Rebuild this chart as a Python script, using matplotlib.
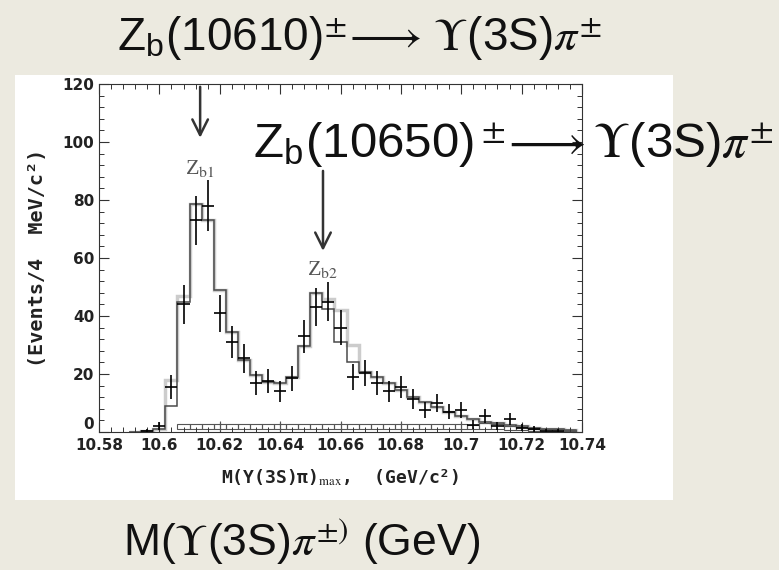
import numpy as np
import matplotlib.pyplot as plt
from matplotlib.patches import Rectangle
from matplotlib.ticker import MultipleLocator

plt.rcParams['mathtext.fontset'] = 'stix'
plt.rcParams['font.family'] = ['Liberation Sans', 'DejaVu Sans']

# --- data (bin width 4 MeV) ---
pt_x = [10.596, 10.600, 10.604, 10.608, 10.612, 10.616, 10.620, 10.624, 10.628, 10.632,
        10.636, 10.640, 10.644, 10.648, 10.652, 10.656, 10.660, 10.664, 10.668, 10.672,
        10.676, 10.680, 10.684, 10.688, 10.692, 10.696, 10.700, 10.704, 10.708, 10.712,
        10.716, 10.720, 10.724, 10.728, 10.732]
pt_y = [0.5, 2, 15.5, 44, 73, 78, 41, 31, 25.5, 17,
        17.5, 14, 18.5, 33, 43, 45, 36, 19, 20.5, 17,
        14, 15.5, 11.5, 7.5, 10, 7, 7.5, 2.5, 5.5, 2,
        4.5, 1.5, 1, 0.5, 0.5]
pt_err = [0.7, 1.4, 4, 6.6, 8.5, 8.8, 6.4, 5.6, 5, 4.1,
          4.2, 3.7, 4.3, 5.7, 6.6, 6.7, 6, 4.4, 4.5, 4.1,
          3.7, 3.9, 3.4, 2.7, 3.2, 2.6, 2.7, 1.6, 2.3, 1.4,
          2.1, 1.2, 1, 0.7, 0.7]

fit_x = [10.592, 10.596, 10.600, 10.604, 10.608, 10.612, 10.616, 10.620, 10.624, 10.628,
         10.632, 10.636, 10.640, 10.644, 10.648, 10.652, 10.656, 10.660, 10.664, 10.668,
         10.672, 10.676, 10.680, 10.684, 10.688, 10.692, 10.696, 10.700, 10.704, 10.708,
         10.712, 10.716, 10.720, 10.724, 10.728, 10.732, 10.736]
fit_y = [0, 0.3, 1, 9, 45, 78.6, 73, 49, 34.6, 25,
         19.6, 17.3, 16.9, 19, 29.6, 48, 42.5, 31, 24, 20.7,
         19, 17, 14.5, 12.2, 10.5, 8.7, 7, 5.5, 4.5, 3.5,
         3, 2.5, 2, 1.5, 1.2, 1, 0.8]
fit2_y = [0, 0.3, 1, 18, 47, 78.6, 73, 49, 34.6, 25,
          19.6, 17.3, 16.9, 19, 29.6, 48, 46, 42, 30, 20.7,
          19, 17, 14.5, 12.2, 10.5, 8.7, 7, 5.5, 4.5, 3.5,
          3, 2.5, 2, 1.5, 1.2, 1, 0.8]

bg_x = [10.608, 10.612, 10.616, 10.620, 10.624, 10.628, 10.632, 10.636, 10.640, 10.644,
        10.648, 10.652, 10.656, 10.660, 10.664, 10.668, 10.672, 10.676, 10.680, 10.684,
        10.688, 10.692, 10.696, 10.700, 10.704, 10.708, 10.712, 10.716, 10.720, 10.724,
        10.728, 10.732, 10.736]
bg_lo = [1.2] * 24 + [1.0, 1.2, 1.0, 0.8, 0.6, 0.5, 0.4, 0.4, 0.3]
bg_hi = [2.7] * 24 + [2.4, 3.0, 2.6, 2.0, 1.6, 1.2, 1.0, 0.9, 0.8]
bgpt_x = [10.620, 10.640, 10.660, 10.680, 10.700]
bgpt_y = [2, 2, 2, 2, 2]
bgpt_err = [1.7, 1.7, 1.7, 1.7, 1.7]

zb1_x, zb2_x = 10.6135, 10.6542

bw = 0.004
fit_edges = np.append(np.array(fit_x) - bw / 2, fit_x[-1] + bw / 2)

fig = plt.figure(figsize=(7.79, 5.70), dpi=100)
fig.patch.set_facecolor('#ECEAE0')
fig.patches.append(Rectangle((0.0193, 0.1228), 0.8447, 0.7456, transform=fig.transFigure,
                             facecolor='white', edgecolor='none', zorder=-10))

ax = fig.add_axes([0.1271, 0.2421, 0.620, 0.6105])
ax.set_facecolor('white')
ax.set_zorder(1)

# fit histograms
ax.stairs(fit2_y, fit_edges, color='#cccccc', lw=2.5)
ax.stairs(fit_y, fit_edges, color='#4a4a4a', lw=1.1)

# background band
ax.bar(bg_x, np.array(bg_hi) - np.array(bg_lo), bottom=bg_lo, width=bw,
       fill=False, edgecolor='#555555', lw=0.8)
ax.errorbar(bgpt_x, bgpt_y, yerr=bgpt_err, fmt='none', ecolor='#555555', lw=0.8)

# data points
ax.errorbar(pt_x, pt_y, xerr=bw / 2, yerr=pt_err, fmt='none', ecolor='black',
            elinewidth=1.2, capsize=0)

ax.set_xlim(10.58, 10.74)
ax.set_ylim(0, 120)
ax.xaxis.set_minor_locator(MultipleLocator(0.004))
ax.yaxis.set_major_locator(MultipleLocator(20))
ax.yaxis.set_minor_locator(MultipleLocator(4))
ax.set_xticks([10.58, 10.60, 10.62, 10.64, 10.66, 10.68, 10.70, 10.72, 10.74])
ax.set_xticklabels(['10.58', '10.6', '10.62', '10.64', '10.66', '10.68', '10.7', '10.72', '10.74'])
ax.set_yticks([0, 20, 40, 60, 80, 100, 120])
ax.tick_params(which='both', direction='in', top=True, right=True, color='#333333')
ax.tick_params(which='major', length=7, width=0.8)
ax.tick_params(which='minor', length=3.5, width=0.7)
ax.tick_params(axis='x', pad=4)
for lab in ax.get_xticklabels() + ax.get_yticklabels():
    lab.set_fontfamily('DejaVu Sans')
    lab.set_fontweight('bold')
    lab.set_fontsize(11)
    lab.set_color('#222222')
ax.yaxis.get_major_ticks()[0].label1.set_verticalalignment('bottom')
for s in ax.spines.values():
    s.set_linewidth(0.8)
    s.set_color('#333333')

ax.set_ylabel('(Events/4  MeV/c²)', fontfamily=['DejaVu Sans Mono', 'DejaVu Sans'],
              fontweight='bold', fontsize=14.5, color='#222222', labelpad=11)
ax.set_xlabel(r'M(Υ(3S)π)$_{\rm max}$,  (GeV/c²)', fontfamily=['DejaVu Sans Mono', 'DejaVu Sans'],
              fontweight='bold', fontsize=13, color='#222222', labelpad=11)

# Zb arrows
arrow = dict(arrowstyle='->', color='#333333', lw=1.8, mutation_scale=28)
ax.annotate('', xy=(zb1_x, 100.5), xytext=(zb1_x, 120), arrowprops=arrow)
ax.annotate('', xy=(zb2_x, 61.5), xytext=(zb2_x, 91), arrowprops=arrow)
ax.text(zb1_x, 91, r'Z$_{\rm b1}$', ha='center', va='center', fontsize=16,
        fontfamily='Liberation Serif', color='#555555')
ax.text(zb2_x, 56, r'Z$_{\rm b2}$', ha='center', va='center', fontsize=16,
        fontfamily='Liberation Serif', color='#555555')

# slide texts
fig.text(0.150, 0.9123, r'Z$_{\mathregular{b}}$(10610)$^{\pm}\!\longrightarrow\,\Upsilon$(3S)$\pi^{\pm}$',
         fontsize=33, ha='left', va='baseline', color='#111111', zorder=5)
fig.text(0.325, 0.7228, r'Z$_{\mathregular{b}}$(10650)$\,^{\pm}\!\longrightarrow\Upsilon$(3S)$\pi^{\pm}$',
         fontsize=35.5, ha='left', va='baseline', color='#111111', zorder=5)
fig.text(0.158, 0.0263, r'M($\Upsilon$(3S)$\pi^{\pm)}$ (GeV)',
         fontsize=32, ha='left', va='baseline', color='#111111', zorder=5)

fig.savefig('out.png', dpi=100, facecolor=fig.get_facecolor())
